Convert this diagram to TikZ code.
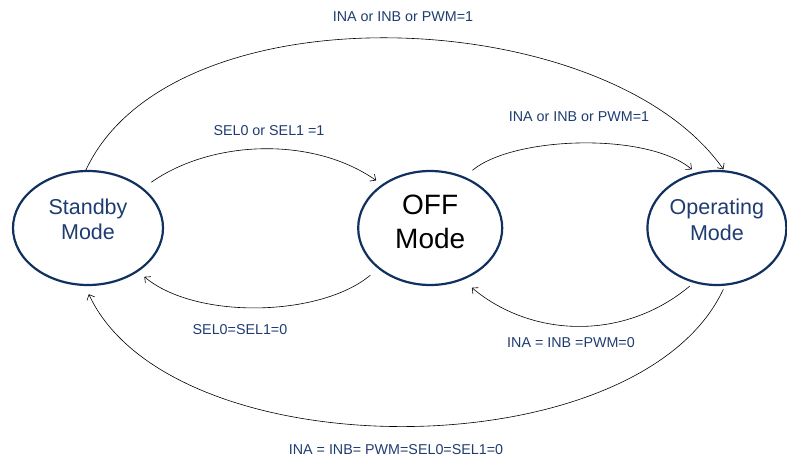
\documentclass[tikz,border=0pt]{standalone}
\usepackage{fontspec}
\setmainfont{Liberation Sans}
\usetikzlibrary{arrows.meta,positioning,shapes.geometric}
\definecolor{modeblue}{HTML}{10305F}
\definecolor{textblue}{HTML}{1F3C70}
\tikzset{
  mode/.style  = {draw=modeblue, line width=2.2pt, ellipse, inner sep=0pt,
                  minimum height=114pt, align=center, text=textblue,
                  font=\fontsize{21.5}{25.5}\selectfont, text depth=18pt},
  trans/.style = {-{Straight Barb[length=4.5pt,width=8.5pt]}, line width=0.6pt},
  lbl/.style   = {font=\fontsize{14.3}{16}\selectfont, text=textblue, inner sep=1pt},
}

\begin{document}
\begin{tikzpicture}[x=1pt,y=1pt]
  \useasboundingbox (0,0) rectangle (787,464);
  % states
  \node[mode, minimum width=150pt] (standby) at (88,236) {Standby\\Mode};
  \node[mode, minimum width=144pt, text=black, font=\fontsize{28}{34}\selectfont,
        text depth=13pt, right=193pt of standby] (off) {OFF\\Mode};
  \node[mode, minimum width=139pt, text depth=17pt, right=143pt of off] (operating) {Operating\\Mode};
  % transitions
  \draw[trans, shorten >=1pt] (standby.92) to[out=65,in=125,looseness=0.82] (operating.83);
  \draw[trans, shorten <=10pt, shorten >=7pt] (standby.36) to[out=35,in=145,looseness=0.9] (off.138);
  \draw[trans, shorten <=10pt, shorten >=5pt] (off.56) to[out=40,in=140,looseness=0.7] (operating.111);
  \draw[trans, shorten <=10pt, shorten >=8pt] (off.218) to[out=-140,in=-40,looseness=0.8] (standby.-41);
  \draw[trans, shorten <=5pt, shorten >=12pt] (operating.247) to[out=-140,in=-40,looseness=1.0] (off.-58);
  \draw[trans, shorten <=4pt, shorten >=9pt] (operating.278) to[out=-115,in=-65,looseness=0.82] (standby.-93);
  % labels
  \node[lbl] (lbltop) at (403,447) {INA or INB or PWM=1};
  \node[lbl] (lblsel) at (269,333) {SEL0 or SEL1 =1};
  \node[lbl] (lblon) at (579,347) {INA or INB or PWM=1};
  \node[lbl] (lbloff) at (240,134) {SEL0=SEL1=0};
  \node[lbl] (lblzero) at (571,121) {INA = INB =PWM=0};
  \node[lbl] (lblall) at (396,14) {INA = INB= PWM=SEL0=SEL1=0};
\end{tikzpicture}
\end{document}
